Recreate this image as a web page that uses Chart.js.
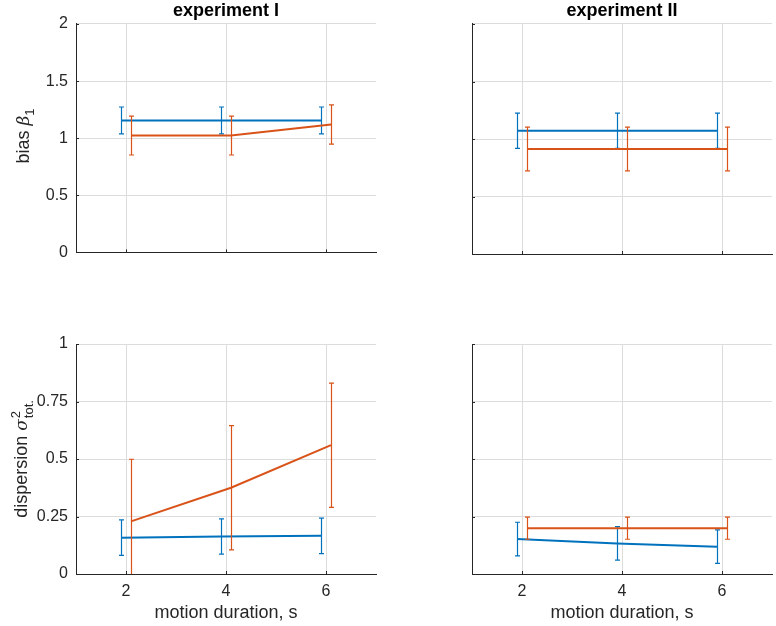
<!DOCTYPE html>
<html>
<head>
<meta charset="utf-8">
<script src="https://cdn.jsdelivr.net/npm/chart.js@4"></script>
<style>
  body { margin: 0; background: #fff; }
  #wrap { position: relative; width: 776px; height: 626px; overflow: hidden; font-family: "Liberation Sans", Arial, sans-serif; color: #262626; }
  canvas { position: absolute; }
  .ylab { position: absolute; font-size: 18px; white-space: nowrap; transform: translate(-50%, -50%) rotate(-90deg); }
  .ylab i { font-family: "DejaVu Serif", serif; font-size: 17px; }
  .ylab sub { font-size: 13px; }
  .ss { display: inline-flex; flex-direction: column; vertical-align: middle; font-size: 13px; line-height: 13px; margin-left: 1px; }
</style>
</head>
<body>
<div id="wrap">
  <canvas id="c1" width="388" height="270" style="left:0;top:0"></canvas>
  <canvas id="c2" width="388" height="270" style="left:388px;top:0"></canvas>
  <canvas id="c3" width="388" height="306" style="left:0;top:320px"></canvas>
  <canvas id="c4" width="388" height="306" style="left:388px;top:320px"></canvas>
  <div class="ylab" style="left:25px;top:136px">bias <i>β</i><sub>1</sub></div>
  <div class="ylab" style="left:22px;top:459px">dispersion <i>σ</i><span class="ss"><span>2</span><span>tot.</span></span></div>
</div>
<script>
var durations = [2, 4, 6];
var xTicks = [2, 4, 6];
var biasTicks = [0, 0.5, 1, 1.5, 2];
var dispTicks = [0, 0.25, 0.5, 0.75, 1];

// experiment I, bias
var biasBlueI = [1.155, 1.155, 1.155];
var biasBlueErrI = [0.118, 0.118, 0.118];
var biasOrangeI = [1.023, 1.023, 1.12];
var biasOrangeErrI = [0.17, 0.17, 0.172];
// experiment II, bias
var biasBlueII = [1.072, 1.072, 1.072];
var biasBlueErrII = [0.153, 0.153, 0.153];
var biasOrangeII = [0.913, 0.913, 0.913];
var biasOrangeErrII = [0.19, 0.19, 0.19];
// experiment I, dispersion
var dispBlueI = [0.158, 0.163, 0.166];
var dispBlueErrI = [0.077, 0.077, 0.077];
var dispOrangeI = [0.229, 0.375, 0.56];
var dispOrangeErrI = [0.27, 0.27, 0.27];
// experiment II, dispersion
var dispBlueII = [0.152, 0.133, 0.119];
var dispBlueErrII = [0.073, 0.073, 0.073];
var dispOrangeII = [0.199, 0.199, 0.199];
var dispOrangeErrII = [0.048, 0.048, 0.048];

var blue = "#0072BD";
var orange = "#D95319";
var shift = 0.1;
var font = "'Liberation Sans', Arial, sans-serif";

var errorBars = {
  id: "errorBars",
  afterDatasetDraw: function(chart, args) {
    var ds = chart.data.datasets[args.index];
    var xs = chart.scales.x, ys = chart.scales.y, a = chart.chartArea;
    var ctx = chart.ctx;
    ctx.save();
    ctx.beginPath();
    ctx.rect(a.left, a.top, a.right - a.left, a.bottom - a.top);
    ctx.clip();
    ctx.strokeStyle = ds.borderColor;
    ctx.lineWidth = 1.2;
    ds.data.forEach(function(p, i) {
      var x = Math.round(xs.getPixelForValue(p.x)) + 0.5;
      var t = ys.getPixelForValue(p.y + ds.errors[i]);
      var b = ys.getPixelForValue(p.y - ds.errors[i]);
      ctx.beginPath();
      ctx.moveTo(x, t); ctx.lineTo(x, b);
      ctx.moveTo(x - 2.5, t); ctx.lineTo(x + 2.5, t);
      ctx.moveTo(x - 2.5, b); ctx.lineTo(x + 2.5, b);
      ctx.stroke();
    });
    ctx.restore();
  },
  afterDraw: function(chart) {
    // small inward tick marks like the original axes
    var xs = chart.scales.x, ys = chart.scales.y, a = chart.chartArea;
    var ctx = chart.ctx;
    ctx.save();
    ctx.strokeStyle = "#262626";
    ctx.lineWidth = 1;
    ctx.beginPath();
    xs.ticks.forEach(function(t) {
      var x = Math.round(xs.getPixelForValue(t.value)) + 0.5;
      ctx.moveTo(x, a.bottom); ctx.lineTo(x, a.bottom - 3);
    });
    ys.ticks.forEach(function(t) {
      var y = Math.round(ys.getPixelForValue(t.value)) + 0.5;
      ctx.moveTo(a.left, y); ctx.lineTo(a.left + 3, y);
    });
    ctx.stroke();
    ctx.restore();
  }
};

function pts(vals, dx) {
  return vals.map(function(v, i) { return { x: durations[i] + dx, y: v }; });
}

function panel(id, o) {
  var yTicks = o.yTicks;
  new Chart(document.getElementById(id), {
    type: "line",
    data: {
      datasets: [
        { data: pts(o.blue, -shift), errors: o.blueErr, borderColor: blue, borderWidth: 2, pointRadius: 0, tension: 0, order: 1 },
        { data: pts(o.orange, shift), errors: o.orangeErr, borderColor: orange, borderWidth: 2, pointRadius: 0, tension: 0, order: 0 }
      ]
    },
    options: {
      responsive: false,
      animation: false,
      devicePixelRatio: 1,
      layout: { padding: { top: o.title ? 0 : 24, right: o.right, left: 0, bottom: 0 } },
      plugins: {
        legend: { display: false },
        tooltip: { enabled: false },
        title: {
          display: !!o.title, text: o.title, fullSize: false, color: "#000",
          font: { family: font, size: 18, weight: "bold" },
          padding: { top: 0, bottom: 2.4 }
        }
      },
      scales: {
        x: {
          type: "linear", min: 1, max: 7,
          afterBuildTicks: function(s) { s.ticks = xTicks.map(function(v) { return { value: v }; }); },
          afterFit: function(s) { s.height = o.xh; },
          grid: { color: "#dcdcdc", drawTicks: false },
          border: { display: true, color: "#262626", width: 1 },
          ticks: {
            display: o.xLabels, padding: 8, color: "#262626", font: { family: font, size: 16 },
            callback: function(v) { return String(v); }
          },
          title: {
            display: o.xLabels, text: "motion duration, s", color: "#262626",
            font: { family: font, size: 18 }, padding: { top: 0, bottom: 2 }
          }
        },
        y: {
          type: "linear", min: 0, max: yTicks[yTicks.length - 1],
          afterBuildTicks: function(s) { s.ticks = yTicks.map(function(v) { return { value: v }; }); },
          afterFit: function(s) { s.width = o.yw; },
          grid: { color: "#dcdcdc", drawTicks: false },
          border: { display: true, color: "#262626", width: 1 },
          ticks: {
            display: o.yLabels, padding: 8, color: "#262626", font: { family: font, size: 16 },
            callback: function(v) { return String(v); }
          }
        }
      }
    },
    plugins: [errorBars]
  });
}

panel("c1", { title: "experiment I", yTicks: biasTicks, blue: biasBlueI, blueErr: biasBlueErrI, orange: biasOrangeI, orangeErr: biasOrangeErrI, xLabels: false, yLabels: true, xh: 16, yw: 76, right: 12 });
panel("c2", { title: "experiment II", yTicks: biasTicks, blue: biasBlueII, blueErr: biasBlueErrII, orange: biasOrangeII, orangeErr: biasOrangeErrII, xLabels: false, yLabels: false, xh: 16, yw: 84, right: 4 });
panel("c3", { title: "", yTicks: dispTicks, blue: dispBlueI, blueErr: dispBlueErrI, orange: dispOrangeI, orangeErr: dispOrangeErrI, xLabels: true, yLabels: true, xh: 52, yw: 76, right: 12 });
panel("c4", { title: "", yTicks: dispTicks, blue: dispBlueII, blueErr: dispBlueErrII, orange: dispOrangeII, orangeErr: dispOrangeErrII, xLabels: true, yLabels: false, xh: 52, yw: 84, right: 4 });
</script>
</body>
</html>
